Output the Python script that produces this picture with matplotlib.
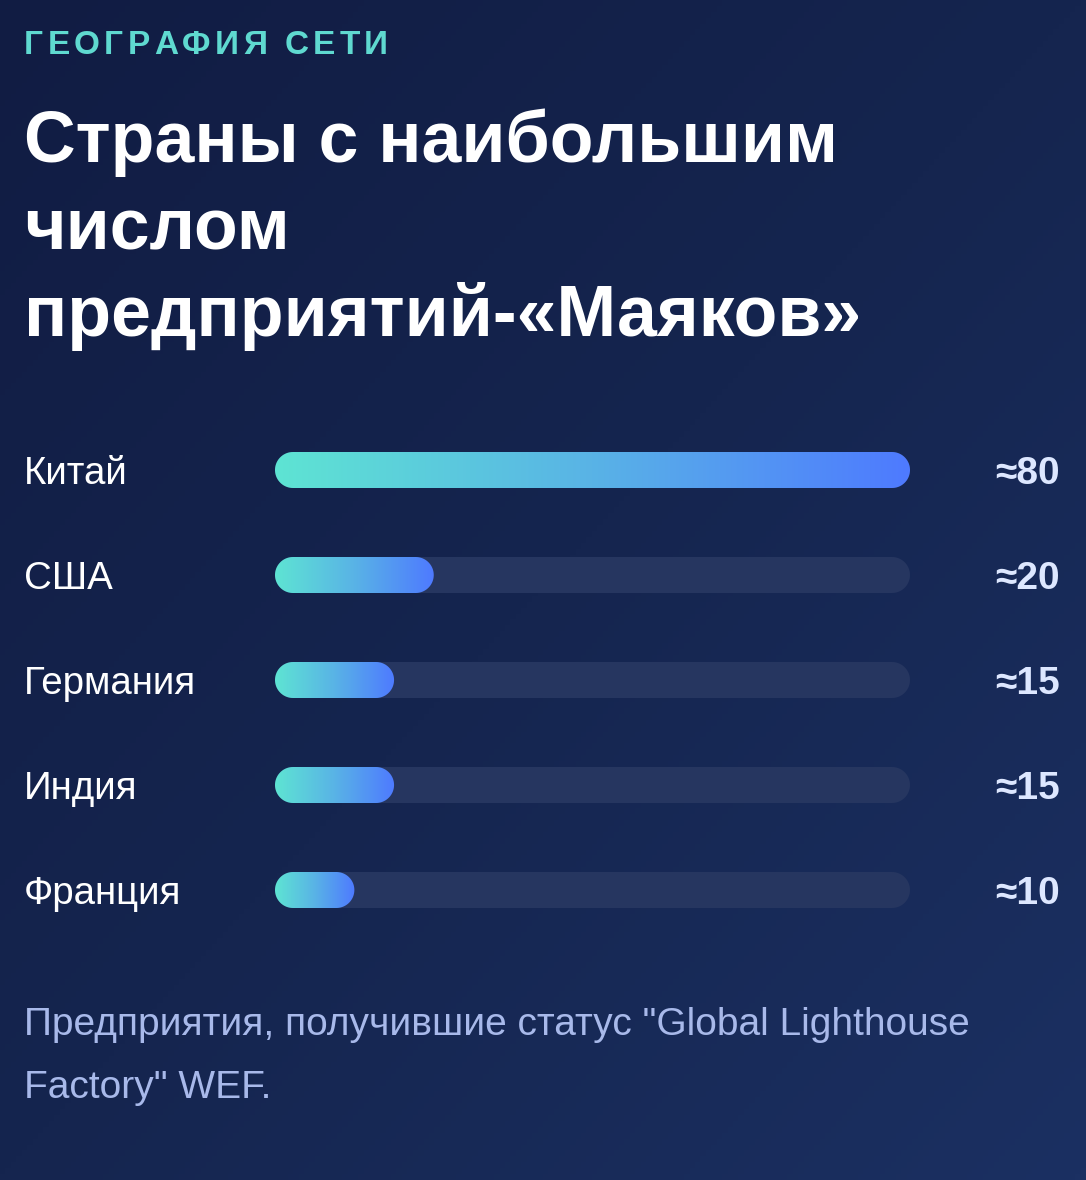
import matplotlib
matplotlib.use("Agg")
import matplotlib.pyplot as plt
import numpy as np
from matplotlib.patches import Polygon
from matplotlib.colors import LinearSegmentedColormap
from matplotlib import font_manager

countries = ["Китай", "США", "Германия", "Индия", "Франция"]
counts = [80, 20, 15, 15, 10]
value_labels = ["≈80", "≈20", "≈15", "≈15", "≈10"]
x_max = 80

kicker = "ГЕОГРАФИЯ СЕТИ"
title_lines = ["Страны с наибольшим", "числом", "предприятий-«Маяков»"]
note_lines = ['Предприятия, получившие статус "Global Lighthouse', 'Factory" WEF.']

W, H = 1086, 1180
DPI = 100

names = {f.name for f in font_manager.fontManager.ttflist}
narrow = "Liberation Sans Narrow" if "Liberation Sans Narrow" in names else None
plt.rcParams["font.family"] = ["Liberation Sans", "DejaVu Sans"]

fig = plt.figure(figsize=(W / DPI, H / DPI), dpi=DPI)


def fx(px):
    return px / W


def fy(py):
    return 1 - py / H


def pill(x0, width, yc, h, rx, n=40):
    # stadium shape in data units, rx = cap radius along x
    t = np.linspace(-np.pi / 2, np.pi / 2, n)
    right = np.column_stack([x0 + width - rx + rx * np.cos(t), yc + h / 2 * np.sin(t)])
    t2 = np.linspace(np.pi / 2, 3 * np.pi / 2, n)
    left = np.column_stack([x0 + rx + rx * np.cos(t2), yc + h / 2 * np.sin(t2)])
    return np.vstack([right, left])


# background, dark navy with a soft diagonal gradient
bg = fig.add_axes([0, 0, 1, 1])
bg.axis("off")
yy, xx = np.mgrid[0:1:200j, 0:1:200j]
shade = 0.5 * xx + 0.5 * yy
bg_cmap = LinearSegmentedColormap.from_list("bg", ["#111c43", "#15254f", "#1b3062"])
bg.imshow(shade, cmap=bg_cmap, extent=[0, 1, 0, 1], aspect="auto", origin="upper")
bg.set_xlim(0, 1)
bg.set_ylim(0, 1)

# bars axes: track spans 275..910 px, rows of 105 px centred at 470..890
row_px = 105
track_px = 635
ax = fig.add_axes([fx(275), fy(470 - row_px / 2 + row_px * len(countries)),
                   fx(track_px), row_px * len(countries) / H])
ax.axis("off")

bar_h = 36 / row_px
r = 18 * x_max / track_px

grad = np.linspace(0, 1, 256).reshape(1, -1)
bar_cmap = LinearSegmentedColormap.from_list("bar", ["#5ee4d3", "#59b3e6", "#4e7aff"])

for i, v in enumerate(counts):
    track = Polygon(pill(0, x_max, i, bar_h, r), closed=True,
                    fc="#263660", ec="none", zorder=1)
    ax.add_patch(track)
    fill = Polygon(pill(0, v, i, bar_h, r), closed=True,
                   fc="none", ec="none", zorder=2)
    ax.add_patch(fill)
    im = ax.imshow(grad, cmap=bar_cmap, extent=[0, v, i + bar_h / 2, i - bar_h / 2],
                   aspect="auto", zorder=3, interpolation="bilinear")
    im.set_clip_path(fill)

ax.set_xlim(0, x_max)
ax.set_ylim(len(countries) - 0.5, -0.5)

# row labels and values
for i, (c, lab) in enumerate(zip(countries, value_labels)):
    yc = 470 + i * row_px
    fig.text(fx(24), fy(yc), c, color="white", fontsize=27.7,
             ha="left", va="center_baseline")
    fig.text(fx(1060), fy(yc), lab, color="#dde7ff", fontsize=28, fontweight="bold",
             ha="right", va="center_baseline")

# kicker with letter spacing
renderer = fig.canvas.get_renderer()
x = 24
for ch in kicker:
    if ch == " ":
        x += 13
        continue
    t = fig.text(fx(x), fy(54), ch, color="#5fd9d0", fontsize=24, fontweight="bold",
                 ha="left", va="baseline")
    x += t.get_window_extent(renderer).width + 4.3

# title
for k, line in enumerate(title_lines):
    fig.text(fx(24), fy(162 + k * 87), line, color="white", fontsize=51.6,
             fontweight="bold", ha="left", va="baseline")

# footnote
note_fam = [narrow, "DejaVu Sans"] if narrow else ["Liberation Sans", "DejaVu Sans"]
note_size = 31 if narrow else 28
for k, line in enumerate(note_lines):
    fig.text(fx(24), fy(1035 + k * 63), line, color="#a8b9ea", fontsize=note_size,
             ha="left", va="baseline", family=note_fam)

fig.savefig("out.png", dpi=DPI, facecolor="#131f47")
